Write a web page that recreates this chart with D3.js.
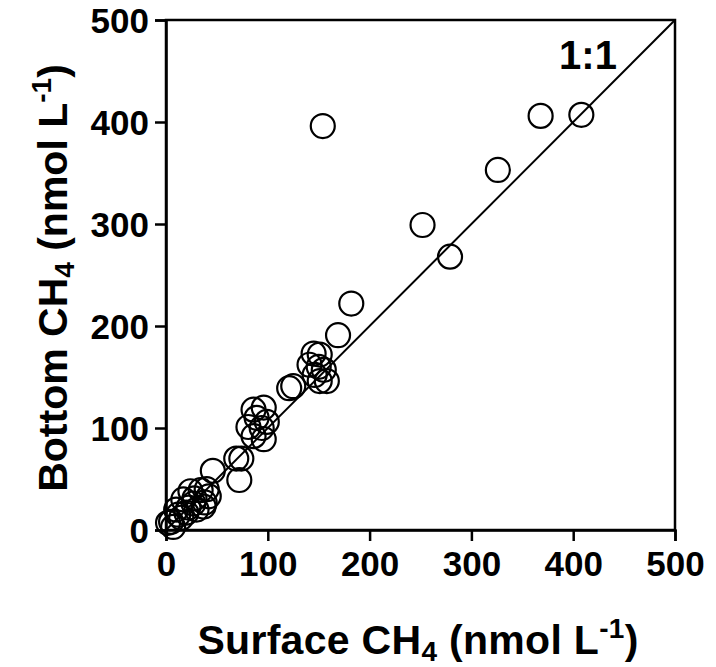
<!DOCTYPE html>
<html>
<head>
<meta charset="utf-8">
<script src="https://cdn.jsdelivr.net/npm/d3@7"></script>
<style>
  body { margin: 0; background: #fff; }
  text { font-family: "Liberation Sans", Arial, sans-serif; font-weight: bold; fill: #000; }
</style>
</head>
<body>
<div id="chart"></div>
<script>
// surface vs bottom CH4 (nmol L-1)
var surface = [408, 368, 326, 252, 279, 182, 169, 154,
               145, 151, 141, 150, 155, 146, 151, 158, 121, 125,
               86, 96, 89, 99, 81, 94, 86, 96,
               69, 74, 72, 46,
               24, 34, 42, 38, 17, 27, 37, 28, 10, 20, 15, 5, 2, 7, 12, 30, 22, 40];
var bottom  = [407, 406, 353, 299, 268, 222, 191, 396,
               173, 172, 162, 160, 157, 152, 146, 146, 139, 141,
               118, 120, 110, 106, 101, 100, 92, 89,
               70, 70, 49, 58,
               38, 39, 33, 27, 30, 26, 23, 31, 20, 17, 12, 8, 7, 3, 15, 20, 22, 40];
var xTicks = [0, 100, 200, 300, 400, 500];
var yTicks = [0, 100, 200, 300, 400, 500];

var svgwidth = 716;
var svgheight = 667;
var plotLeft = 166, plotRight = 675, plotTop = 20, plotBottom = 530;

var svg = d3.select('#chart')
            .append('svg')
            .attr('width', svgwidth)
            .attr('height', svgheight);

var xscale = d3.scaleLinear().domain([0, 500]).range([plotLeft, plotRight]);
var yscale = d3.scaleLinear().domain([0, 500]).range([plotBottom, plotTop]);

// frame
svg.append('rect')
    .attr('x', plotLeft).attr('y', plotTop)
    .attr('width', plotRight - plotLeft).attr('height', plotBottom - plotTop)
    .attr('fill', 'none').attr('stroke', '#000').attr('stroke-width', 2.5);

// 1:1 line
svg.append('line')
    .attr('x1', xscale(0)).attr('y1', yscale(0))
    .attr('x2', xscale(500)).attr('y2', yscale(500))
    .attr('stroke', '#000').attr('stroke-width', 2);

var xaxis = d3.axisBottom(xscale).tickValues(xTicks).tickSize(11).tickPadding(10);
var yaxis = d3.axisLeft(yscale).tickValues(yTicks).tickSize(11).tickPadding(6);

var gx = svg.append('g').attr('transform', 'translate(0,' + plotBottom + ')').call(xaxis);
var gy = svg.append('g').attr('transform', 'translate(' + plotLeft + ',0)').call(yaxis);
[gx, gy].forEach(function(g){
    g.select('.domain').attr('stroke-width', 2.5);
    g.selectAll('.tick line').attr('stroke-width', 2.5);
    g.selectAll('.tick text')
        .style('font-size', '35px')
        .style('font-family', '"Liberation Sans", Arial, sans-serif')
        .style('font-weight', 'bold');
});
gy.selectAll('.tick text').attr('dy', '0.36em');

// points
var pts = surface.map(function(s, i){ return {x: s, y: bottom[i]}; });
svg.append('g')
    .selectAll('circle')
    .data(pts)
    .join('circle')
    .attr('cx', d => xscale(d.x))
    .attr('cy', d => yscale(d.y))
    .attr('r', 12)
    .attr('fill', 'none')
    .attr('stroke', '#000')
    .attr('stroke-width', 2.2);

// 1:1 label
svg.append('text')
    .attr('x', 588).attr('y', 69)
    .style('text-anchor', 'middle')
    .style('font-size', '40px')
    .text('1:1');

// x title
var xt = svg.append('text')
    .attr('x', 418).attr('y', 654)
    .style('text-anchor', 'middle')
    .style('font-size', '41px')
    .style('letter-spacing', '0.3px');
xt.append('tspan').text('Surface CH');
xt.append('tspan').attr('dy', 7).style('font-size', '28px').text('4');
xt.append('tspan').attr('dy', -7).text(' (nmol L');
xt.append('tspan').attr('dy', -16).style('font-size', '28px').text('-1');
xt.append('tspan').attr('dy', 16).text(')');

// y title
var yt = svg.append('text')
    .attr('transform', 'translate(67,278) rotate(-90)')
    .style('text-anchor', 'middle')
    .style('font-size', '41px');
yt.append('tspan').text('Bottom CH');
yt.append('tspan').attr('dy', 7).style('font-size', '28px').text('4');
yt.append('tspan').attr('dy', -7).text(' (nmol L');
yt.append('tspan').attr('dy', -16).style('font-size', '28px').text('-1');
yt.append('tspan').attr('dy', 16).text(')');
</script>
</body>
</html>
